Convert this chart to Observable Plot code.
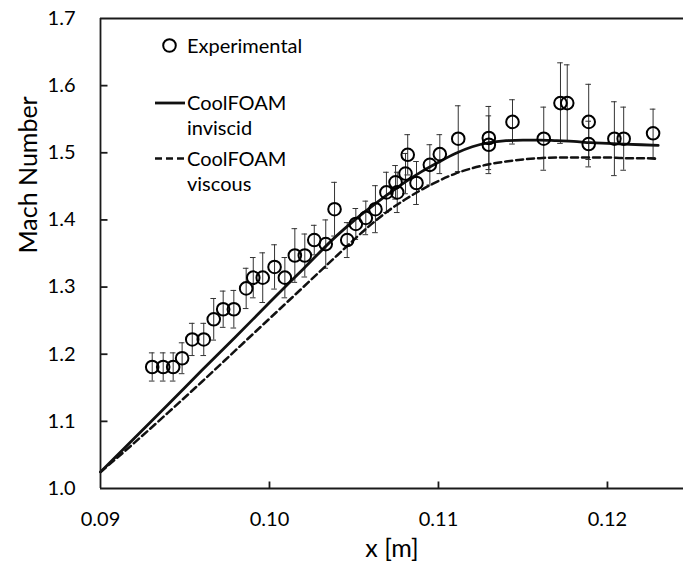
<!DOCTYPE html>
<html><head><meta charset="utf-8">
<script src="https://cdn.jsdelivr.net/npm/d3@7"></script>
<script src="https://cdn.jsdelivr.net/npm/@observablehq/plot@0.6"></script>
<style>
body{margin:0;background:#fff;}
#wrap{position:relative;width:683px;height:571px;}
#legend{position:absolute;left:0;top:0;pointer-events:none;}
</style></head><body>
<div id="wrap"></div>
<script>
// Experimental data
const expX = [0.09306,0.09371,0.09430,0.09483,0.09543,0.09611,0.09670,0.09726,0.09789,0.09862,
  0.09904,0.09960,0.10030,0.10091,0.10150,0.10209,0.10265,0.10333,0.10385,0.10460,
  0.10511,0.10570,0.10627,0.10692,0.10746,0.10756,0.10805,0.10818,0.10870,0.10949,
  0.11008,0.11117,0.11298,0.11298,0.11438,0.11623,0.11722,0.11762,0.11889,0.11889,
  0.12041,0.12096,0.12270];
const expY = [1.181,1.181,1.181,1.194,1.222,1.222,1.252,1.267,1.267,1.298,
  1.314,1.314,1.330,1.314,1.347,1.347,1.370,1.364,1.416,1.370,
  1.394,1.403,1.416,1.441,1.456,1.441,1.469,1.497,1.455,1.482,
  1.498,1.521,1.522,1.512,1.546,1.521,1.574,1.574,1.546,1.513,
  1.521,1.521,1.529];
const expErr = [0.021,0.021,0.021,0.023,0.024,0.024,0.031,0.027,0.028,0.030,
  0.030,0.037,0.033,0.030,0.040,0.032,0.022,0.036,0.040,0.026,
  0.023,0.025,0.035,0.030,0.025,0.030,0.030,0.030,0.032,0.030,
  0.029,0.049,0.047,0.043,0.033,0.047,0.060,0.057,0.056,0.034,
  0.055,0.047,0.036];
// CoolFOAM inviscid
const invX = [0.090,0.092,0.094,0.096,0.098,0.100,0.102,0.104,0.105,0.106,0.107,0.108,0.109,0.110,
  0.111,0.112,0.113,0.114,0.115,0.116,0.117,0.118,0.119,0.120,0.121,0.122,0.1230];
const invY = [1.0245,1.075,1.125,1.176,1.226,1.277,1.327,1.377,1.399,1.419,1.438,1.456,1.472,1.486,
  1.499,1.509,1.515,1.518,1.519,1.519,1.518,1.517,1.515,1.514,1.513,1.512,1.511];
// CoolFOAM viscous
const visX = [0.090,0.092,0.094,0.096,0.098,0.100,0.102,0.104,0.106,0.107,0.108,0.109,0.110,
  0.111,0.112,0.113,0.114,0.115,0.116,0.117,0.118,0.119,0.120,0.121,0.122,0.1230];
const visY = [1.0245,1.068,1.113,1.159,1.206,1.253,1.300,1.347,1.393,1.413,1.430,1.445,1.458,
  1.469,1.477,1.483,1.487,1.490,1.492,1.493,1.493,1.493,1.493,1.492,1.492,1.491];

const xTicks = [0.09, 0.10, 0.11, 0.12];
const yTicks = [1.0, 1.1, 1.2, 1.3, 1.4, 1.5, 1.6, 1.7];
const xTitle = "x [m]";
const yTitle = "Mach Number";
const legendItems = [
  {kind: "dot", lines: ["Experimental"]},
  {kind: "solid", lines: ["CoolFOAM", "inviscid"]},
  {kind: "dash", lines: ["CoolFOAM", "viscous"]}
];

const exp = expX.map((x, i) => ({x, y: expY[i], lo: expY[i] - expErr[i], hi: expY[i] + expErr[i]}));
const inv = invX.map((x, i) => ({x, y: invY[i]}));
const vis = visX.map((x, i) => ({x, y: visY[i]}));

const axisColor = "#1a1a1a";
const font = "Lato, 'Open Sans', sans-serif";
const W = 683, H = 571, mL = 100, mR = 0, mT = 18, mB = 83, tickLen = 7;
const xDom = [0.09, 0.1245], yDom = [1.0, 1.7];
// tick length converted from pixels into data units of each scale
const tickDx = tickLen * (xDom[1] - xDom[0]) / (W - mL - mR);
const tickDy = tickLen * (yDom[1] - yDom[0]) / (H - mT - mB);

const chart = Plot.plot({
  width: W, height: H,
  marginLeft: mL, marginRight: mR, marginTop: mT, marginBottom: mB,
  style: {fontFamily: font, fontSize: "20px", color: "#000", background: "#fff", overflow: "visible"},
  x: {domain: xDom},
  y: {domain: yDom},
  marks: [
    Plot.ruleX(exp, {x: "x", y1: "lo", y2: "hi", stroke: "#333", strokeWidth: 1}),
    Plot.ruleY(exp, {x1: "x", x2: "x", y: "hi", insetLeft: -2.8, insetRight: -2.8, stroke: "#333", strokeWidth: 1}),
    Plot.ruleY(exp, {x1: "x", x2: "x", y: "lo", insetLeft: -2.8, insetRight: -2.8, stroke: "#333", strokeWidth: 1}),
    Plot.line(vis, {x: "x", y: "y", stroke: "#111", strokeWidth: 2.5, strokeDasharray: "7,4", curve: "monotone-x"}),
    Plot.line(inv, {x: "x", y: "y", stroke: "#111", strokeWidth: 2.8, curve: "monotone-x"}),
    Plot.dot(exp, {x: "x", y: "y", r: 6.3, stroke: "#000", strokeWidth: 2, fill: "none"}),
    // inward tick marks
    Plot.link(xTicks.slice(1), {x1: d => d, x2: d => d, y1: yDom[0], y2: yDom[0] + tickDy, stroke: axisColor, strokeWidth: 1.8}),
    Plot.link(yTicks.slice(1, -1), {x1: xDom[0], x2: xDom[0] + tickDx, y1: d => d, y2: d => d, stroke: axisColor, strokeWidth: 1.8}),
    // frame
    Plot.ruleX([xDom[0]], {stroke: axisColor, strokeWidth: 1.8}),
    Plot.ruleY(yDom, {stroke: axisColor, strokeWidth: 1.8}),
    Plot.axisX(xTicks, {tickSize: 0, tickPadding: 23, tickFormat: d3.format(".2f"), label: null, fontSize: 20}),
    Plot.axisY(yTicks, {tickSize: 0, tickPadding: 25, tickFormat: d3.format(".1f"), label: null, fontSize: 20}),
    Plot.text([xTitle], {frameAnchor: "bottom", dy: 68, fontSize: 25, fill: "#000"}),
    Plot.text([yTitle], {frameAnchor: "left", dx: -72, rotate: -90, fontSize: 25, fill: "#000"})
  ]
});
const wrap = document.getElementById("wrap");
wrap.appendChild(chart);

// legend overlay
const lg = d3.select(wrap).append("svg").attr("id", "legend")
  .attr("width", W).attr("height", H)
  .style("font-family", font).style("font-size", "20px");
const rows = [52.5, 110, 165.5];
legendItems.forEach((it, i) => {
  const yb = rows[i];
  const ym = yb - 7;
  if (it.kind === "dot") {
    lg.append("circle").attr("cx", 169.5).attr("cy", ym).attr("r", 6.3)
      .attr("fill", "none").attr("stroke", "#000").attr("stroke-width", 2);
  } else {
    lg.append("line").attr("x1", 155).attr("x2", 185).attr("y1", ym).attr("y2", ym)
      .attr("stroke", "#111").attr("stroke-width", it.kind === "solid" ? 2.8 : 2.5)
      .attr("stroke-dasharray", it.kind === "dash" ? "7,4" : null);
  }
  it.lines.forEach((t, j) => {
    lg.append("text").attr("x", 187).attr("y", yb + j * 25).text(t);
  });
});
</script>
</body></html>
